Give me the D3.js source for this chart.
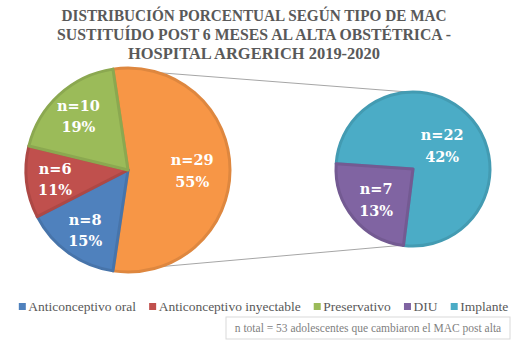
<!DOCTYPE html>
<html><head><meta charset="utf-8">
<script src="https://cdn.jsdelivr.net/npm/d3@7"></script>
<style>body{margin:0;background:#fff}svg{display:block}</style>
</head><body>
<script>
const titleLines = ["DISTRIBUCIÓN PORCENTUAL SEGÚN TIPO DE MAC","SUSTITUÍDO POST 6 MESES AL ALTA OBSTÉTRICA -","HOSPITAL ARGERICH 2019-2020"];
const categories = ["Anticonceptivo oral","Anticonceptivo inyectable","Preservativo","DIU","Implante"];
const counts = [8,6,10,7,22];
const percents = ["15%","11%","19%","13%","42%"];
const colors = ["#4F81BD","#C0504D","#9BBB59","#8064A2","#4BACC6"];
const otherColor = "#F79646";
const otherPercent = "55%";
const secondaryIdx = [3,4];
const note = "n total = 53 adolescentes que cambiaron el MAC post alta";

const W=521,H=354;
const svg=d3.select("body").append("svg").attr("width",W).attr("height",H);
const serif="'DejaVu Serif', serif";
const lserif="'Liberation Serif', serif";

// title
const titleW=[385,394,252];
svg.append("g").selectAll("text").data(titleLines).join("text")
  .attr("x",254).attr("y",(d,i)=>20.5+i*19)
  .attr("text-anchor","middle").attr("font-family",lserif).attr("font-weight","bold")
  .attr("font-size",17).attr("fill","#595959").text(d=>d)
  .attr("textLength",(d,i)=>titleW[i]).attr("lengthAdjust","spacingAndGlyphs");

const deg=Math.PI/180;
const darker=c=>d3.color(c).darker(0.3).formatHex();

// main pie data
const otherTotal=d3.sum(secondaryIdx,i=>counts[i]);
const mainData=[{n:otherTotal,p:otherPercent,c:otherColor,other:true}]
  .concat([0,1,2].map(i=>({n:counts[i],p:percents[i],c:colors[i]})));
const total=d3.sum(mainData,d=>d.n);
const otherAngle=otherTotal/total*2*Math.PI;
const mainStart=Math.PI/2-otherAngle/2;
const mainPie=d3.pie().sort(null).value(d=>d.n).startAngle(mainStart).endAngle(mainStart+2*Math.PI);
const m={cx:128,cy:170,r:102};
const mainArcs=mainPie(mainData);

// secondary pie
const secData=[4,3].map(i=>({n:counts[i],p:percents[i],c:colors[i]}));
const s={cx:413,cy:169,r:77};
const secStart=-86*deg;
const secPie=d3.pie().sort(null).value(d=>d.n).startAngle(secStart).endAngle(secStart+2*Math.PI);
const secArcs=secPie(secData);

const pt=(c,a,r)=>[c.cx+r*Math.sin(a),c.cy-r*Math.cos(a)];
// connectors
const oa=mainArcs[0];
const lines=[[pt(m,oa.startAngle,m.r),pt(s,-3*deg,s.r)],[pt(m,oa.endAngle,m.r),pt(s,188*deg,s.r)]];
svg.append("g").selectAll("line").data(lines).join("line")
  .attr("x1",d=>d[0][0]).attr("y1",d=>d[0][1]).attr("x2",d=>d[1][0]).attr("y2",d=>d[1][1])
  .attr("stroke","#A6A6A6").attr("stroke-width",1);

function drawPie(arcs,c,lf){
  const g=svg.append("g").attr("transform",`translate(${c.cx},${c.cy})`);
  const arc=d3.arc().innerRadius(0).outerRadius(c.r);
  g.selectAll("path").data(arcs).join("path").attr("d",arc)
    .attr("fill",d=>d.data.c).attr("stroke",d=>darker(d.data.c)).attr("stroke-width",3).attr("stroke-linejoin","round");
  const lab=g.selectAll("text").data(arcs).join("text")
    .attr("font-family",serif).attr("font-weight","bold").attr("font-size",14.5).attr("fill","#fff")
    .attr("text-anchor","middle")
    .attr("transform",d=>{const a=(d.startAngle+d.endAngle)/2;const rr=c.r*lf(d);return `translate(${rr*Math.sin(a)},${-rr*Math.cos(a)})`;});
  lab.append("tspan").attr("x",0).attr("dy","-0.35em").text(d=>"n="+d.data.n);
  lab.append("tspan").attr("x",0).attr("dy","1.5em").text(d=>d.data.p);
}
drawPie(mainArcs,m,d=>d.data.other?0.63:0.72);
drawPie(secArcs,s,d=>(d.endAngle-d.startAngle)>Math.PI?0.49:0.62);

// legend
const lg=svg.append("g");
let x=0;
const items=categories.map((name,i)=>({name,c:colors[i]}));
const ig=lg.selectAll("g").data(items).join("g");
ig.append("rect").attr("width",7).attr("height",7).attr("y",-8).attr("fill",d=>d.c);
ig.append("text").attr("x",9.5).attr("font-family",lserif).attr("font-size",13.5).attr("fill","#595959").text(d=>d.name);
ig.each(function(){const w=this.getBBox().width; d3.select(this).attr("transform",`translate(${x},0)`); x+=w+13;});
const lw=x-13;
lg.attr("transform",`translate(${(W-lw)/2+3},311)`);

// note box
const nb=svg.append("g");
nb.append("rect").attr("x",226).attr("y",317).attr("width",284).attr("height",22).attr("fill","#fff").attr("stroke","#D9D9D9");
nb.append("text").attr("x",368).attr("y",332).attr("text-anchor","middle").attr("font-family",lserif).attr("font-size",11.5)
  .attr("fill","#7F7F7F").text(note);
</script>
</body></html>
